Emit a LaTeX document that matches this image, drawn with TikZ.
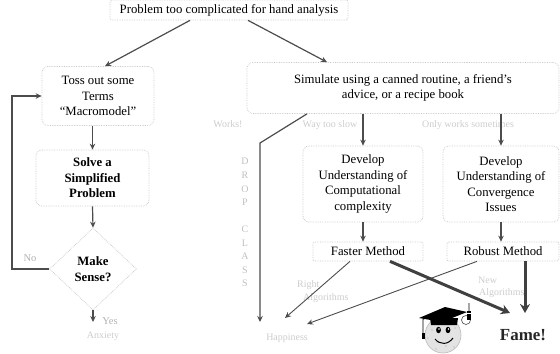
\documentclass[tikz,border=0pt]{standalone}
\usepackage{fontspec}
\setmainfont{Liberation Serif}
\usetikzlibrary{arrows.meta,shapes.geometric}
\begin{document}
\begin{tikzpicture}[x=1bp,y=-1bp,
  box/.style={draw=gray!45, densely dotted, line width=0.7bp, rounded corners=6bp,
    align=center, inner sep=2bp, font=\fontsize{12.8}{15.5}\selectfont},
  flat/.style={box, rounded corners=2bp},
  arr/.style={draw=black!70, line width=1.2bp, -{Stealth[length=6bp,width=5.5bp]}},
  fat/.style={draw=black!75, line width=3bp, -{Stealth[length=9bp,width=10bp]}},
  faint/.style={text=gray!40, font=\fontsize{10}{12}\selectfont, inner sep=0pt},
  soft/.style={text=gray!60, font=\fontsize{10.5}{12}\selectfont, inner sep=0pt},
  letter/.style={text=gray!50, font=\fontsize{10}{12}\selectfont, inner sep=0pt}]
\useasboundingbox (0,0) rectangle (560,353);

% boxes
\node[flat, minimum width=238bp, minimum height=20bp] (top) at (229,10)
  {Problem too complicated for hand analysis};
\node[box, minimum width=112bp, minimum height=59bp] (toss) at (98,96)
  {Toss out some\\Terms\\“Macromodel”};
\node[box, minimum width=113bp, minimum height=56bp, font=\fontsize{12.8}{15.5}\selectfont\bfseries] (solve) at (92.5,178)
  {Solve a\\Simplified\\Problem};
\node[diamond, draw=gray!45, densely dotted, line width=0.7bp, inner sep=0pt,
  minimum width=87bp, minimum height=82bp, align=center,
  font=\fontsize{12.8}{15.5}\selectfont\bfseries] (dia) at (93,269) {Make\\Sense?};
\node[box, minimum width=312bp, minimum height=51bp] (sim) at (403,88)
  {Simulate using a canned routine, a friend’s\\advice, or a recipe book};
\node[box, minimum width=120bp, minimum height=76bp] (dev1) at (363,184)
  {Develop\\Understanding of\\Computational\\complexity};
\node[box, minimum width=116bp, minimum height=76bp] (dev2) at (501,184)
  {Develop\\Understanding of\\Convergence\\Issues};
\node[flat, minimum width=110bp, minimum height=19bp] (fast) at (368,251.5) {Faster Method};
\node[flat, minimum width=112bp, minimum height=19bp] (rob) at (503,251.5) {Robust Method};

% outcome labels
\node[faint] (anx) at (103,336) {Anxiety};
\node[faint] (hap) at (287,338) {Happiness};
\node[font=\fontsize{17}{20}\selectfont\bfseries, text=black!85, inner sep=0pt] (fame) at (523,335) {Fame!};

% edge labels
\node[faint] (works) at (228,124) {Works!};
\node[faint] (slow) at (330,125) {Way too slow};
\node[faint] (some) at (468,125) {Only works sometimes};
\node[soft] (yes) at (110,321) {Yes};
\node[soft] (no) at (30,258) {No};
\node[faint, anchor=west] (right) at (297,285) {Right};
\node[faint, anchor=west] (ralg) at (303,298) {Algorithms};
\node[faint, anchor=west] (new) at (478,280) {New};
\node[faint, anchor=west] (nalg) at (479,293) {Algorithms};

% DROP CLASS, one letter per line
\foreach \ch/\yy [count=\i] in {D/161,R/175,O/189,P/202,C/229,L/243,A/256,S/270,S/283}
  \node[letter] (drop\i) at (245,\yy) {\ch};

% connector points
\coordinate (nocorner) at (12,180);
\coordinate (yesend) at (93,322);
\coordinate (dropbend) at (260,143);
\coordinate (dropend) at (260,322);
\coordinate (hapA) at (285,318);
\coordinate (hapB) at (307,324);
\coordinate (fameA) at (510,313);
\coordinate (fameB) at (525,313);

% connectors
\draw[arr] ([xshift=-39bp]top.south) -- ([xshift=7bp]toss.north);
\draw[arr] ([xshift=19bp]top.south) -- ([xshift=-76bp]sim.north);
\draw[arr] (toss.south -| solve.north) -- (solve.north);
\draw[arr] (solve.south) -- (dia.north);
\draw[arr] (dia.south) -- (yesend);
\draw[arr] (dia.west) -| (nocorner) |- (toss.west);
\draw[arr] ([xshift=-96bp]sim.south) -- (dropbend) -- (dropend);
\draw[arr] (sim.south -| dev1.north) -- (dev1.north);
\draw[arr] (sim.south -| dev2.north) -- (dev2.north);
\draw[arr] (dev1.south) -- (dev1.south |- fast.north);
\draw[arr] (dev2.south) -- (dev2.south |- rob.north);
\draw[arr, line width=0.9bp] ([xshift=-18bp]fast.south) -- (hapA);
\draw[arr, line width=0.9bp] ([xshift=-26bp]rob.south) -- (hapB);
\draw[fat] ([xshift=22bp]fast.south) -- (fameA);
\draw[fat] (rob.south -| fameB) -- (fameB);

% graduate smiley
\fill[gray!22] (443,335) circle (18);
\foreach \px/\py in {432/330,437/342,446/346,452/339,455/328,440/322,428/338,449/322,436/349,454/347}
  \fill[gray!45] (\px,\py) circle (0.9);
\draw[gray!55, line width=0.6bp] (443,335) circle (18);
\fill[black] (430,318) -- (458,318) -- (457,325) -- (431,325) -- cycle;
\fill[black] (419,318) -- (445,307) -- (467,312) -- (442,322) -- cycle;
\draw[black, line width=0.9bp] (442,314) -- (423,319) -- (423,334);
\fill[black] (421.5,333) rectangle (424.5,339);
\fill[black] (438.5,330) ellipse (2.4 and 3.2);
\fill[black] (448,330) ellipse (2.4 and 3.2);
\fill[white] (439,329) circle (0.8);
\fill[white] (448.5,329) circle (0.8);
\draw[black, line width=1bp] (435,339) .. controls (440,345) and (448,345) .. (453,338);
\fill[white] (466,320) circle (4.5);
\draw[black!70, line width=0.6bp] (466,320) circle (4.5);
\fill[black] (467,311) rectangle (471,320);
\draw[white, line width=0.6bp] (467,313) -- (471,313);
\draw[gray!70, line width=1.5bp] (469,311) -- (469,303);
\end{tikzpicture}
\end{document}
